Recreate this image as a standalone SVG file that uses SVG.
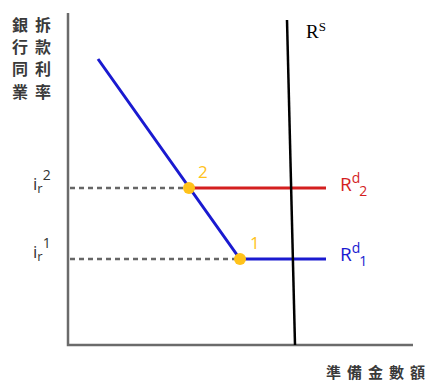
<svg xmlns="http://www.w3.org/2000/svg" width="432" height="387" viewBox="0 0 432 387">
<style>
.cjk{font-family:"Noto Sans CJK TC","Noto Sans CJK SC",sans-serif;font-size:16px;font-weight:bold;fill:#3a3a3a}
.lbl{font-family:"Open Sans","DejaVu Sans",sans-serif}
.dash{stroke:#666;stroke-width:2.5;stroke-dasharray:5,4;fill:none}
</style>
<rect width="432" height="387" fill="#fff"/>
<g id="axes">
<path d="M68,13 V345 H413" fill="none" stroke="#6b6b6b" stroke-width="2.5"/>
</g>
<g id="y-label" class="cjk">
<text x="12" y="31">銀</text><text x="35" y="31">拆</text>
<text x="12" y="53">行</text><text x="35" y="53">款</text>
<text x="12" y="75">同</text><text x="35" y="75">利</text>
<text x="12" y="98">業</text><text x="35" y="98">率</text>
</g>
<g id="x-label" class="cjk">
<text x="326" y="378" font-size="15" letter-spacing="6">準備金數額</text>
</g>
<g id="connectors">
<path class="dash" d="M70,188 H189"/>
<path class="dash" d="M70,259 H240"/>
<path d="M189,188 H326" stroke="#d41f1f" stroke-width="3" fill="none"/>
<path d="M98,59 L240,259 H326" stroke="#1a1ad0" stroke-width="3" fill="none"/>
<path d="M287,20 L295,345" stroke="#000" stroke-width="2.5" fill="none"/>
</g>
<g id="point2">
<circle cx="189" cy="188" r="6" fill="#ffc21a"/>
<text x="198" y="178" class="lbl" font-size="17" fill="#ffc21a">2</text>
</g>
<g id="point1">
<circle cx="240" cy="259" r="6" fill="#ffc21a"/>
<text x="250" y="249" class="lbl" font-size="17" fill="#ffc21a">1</text>
</g>
<g id="rs-label">
<text x="306" y="38" font-family="Liberation Serif,serif" font-size="19" fill="#000">R<tspan font-size="13" dy="-7">S</tspan></text>
</g>
<g id="rd2-label">
<text x="340" y="191" class="lbl" font-size="19" fill="#d41f1f">R<tspan font-size="14" dy="-8">d</tspan><tspan font-size="14" dx="-1" dy="13">2</tspan></text>
</g>
<g id="rd1-label">
<text x="340" y="261" class="lbl" font-size="19" fill="#1a1ad0">R<tspan font-size="14" dy="-8">d</tspan><tspan font-size="14" dx="-1" dy="13">1</tspan></text>
</g>
<g id="ir2-label">
<text x="33" y="190" class="lbl" font-size="17" fill="#333">i<tspan font-size="13" dy="3">r</tspan><tspan font-size="14" dy="-13">2</tspan></text>
</g>
<g id="ir1-label">
<text x="33" y="258" class="lbl" font-size="17" fill="#333">i<tspan font-size="13" dy="3">r</tspan><tspan font-size="14" dy="-13">1</tspan></text>
</g>
</svg>
